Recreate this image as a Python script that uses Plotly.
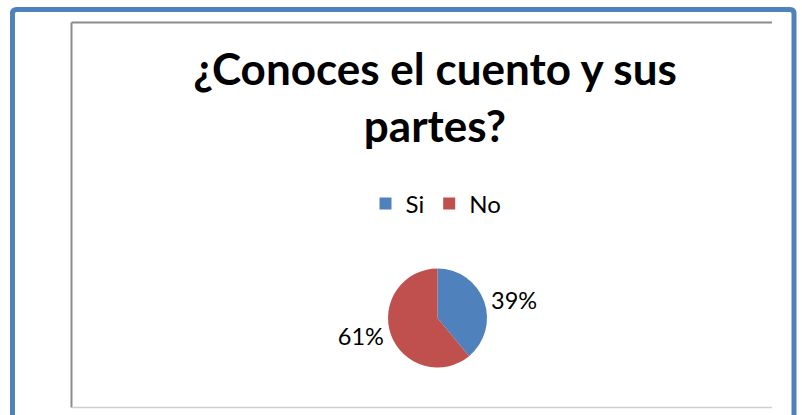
import plotly.graph_objects as go

W, H = 802, 415
labels = ["Si", "No"]
values = [39, 61]
colors = ["#4F81BD", "#C0504D"]
title_text = "¿Conoces el cuento y sus<br>partes?"

def px(x):
    return x / W

def py(y):
    return 1 - y / H

FONT = "Lato"

fig = go.Figure()
fig.add_trace(go.Pie(
    labels=labels,
    values=values,
    sort=False,
    direction="clockwise",
    rotation=0,
    marker=dict(colors=colors, line=dict(width=0)),
    textinfo="percent",
    texttemplate="%{percent:.0%}",
    textposition="outside",
    textfont=dict(family=FONT, size=23.5, color="#000000"),
    domain=dict(x=[px(388), px(487)], y=[py(367.5), py(268.5)]),
    showlegend=True,
))

# blue outer frame with rounded corners
r = 4
x0, y0, x1, y1 = 12.5, 9.5, 794, 440
path = (f"M {px(x0)},{py(y1)} L {px(x0)},{py(y0 + r)} "
        f"Q {px(x0)},{py(y0)} {px(x0 + r)},{py(y0)} "
        f"L {px(x1 - r)},{py(y0)} Q {px(x1)},{py(y0)} {px(x1)},{py(y0 + r)} "
        f"L {px(x1)},{py(y1)}")
shapes = [
    dict(type="path", xref="paper", yref="paper", path=path,
         line=dict(color="#4F81BD", width=5)),
    # inner chart box
    dict(type="line", xref="paper", yref="paper", x0=px(71.5), x1=px(71.5),
         y0=py(22.5), y1=py(407.5), line=dict(color="#8C8C8C", width=2)),
    dict(type="line", xref="paper", yref="paper", x0=px(71.5), x1=px(772),
         y0=py(22.5), y1=py(22.5), line=dict(color="#8C8C8C", width=2)),
    dict(type="line", xref="paper", yref="paper", x0=px(72), x1=px(772),
         y0=py(407.5), y1=py(407.5), line=dict(color="#CFCFCF", width=1.5)),
]

fig.update_layout(
    width=W, height=H,
    margin=dict(l=0, r=0, t=0, b=0),
    paper_bgcolor="white",
    plot_bgcolor="white",
    shapes=shapes,
    title=dict(text=title_text, x=px(435), xanchor="center", xref="paper",
               y=py(85), yanchor="top", yref="paper",
               font=dict(family=FONT, size=44, color="#000000", weight="bold")),
    legend=dict(orientation="h", x=px(436), xanchor="center",
                y=py(204), yanchor="middle",
                font=dict(family=FONT, size=24, color="#000000"),
                itemsizing="constant"),
    font=dict(family=FONT),
)

fig.write_html(
    "out.html",
    config={"displayModeBar": False},
    post_script="document.body.style.margin='0';document.body.style.overflow='hidden';",
)
